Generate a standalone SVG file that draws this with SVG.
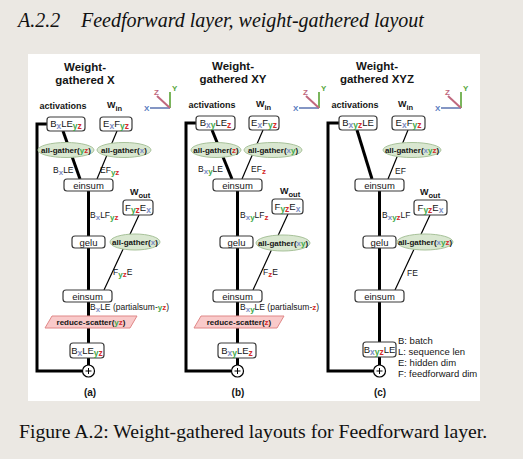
<svg xmlns="http://www.w3.org/2000/svg" width="523" height="459" viewBox="0 0 523 459">
<style>
.f{font-family:"Liberation Sans",Arial,sans-serif;fill:#151515}
.ttl{font-size:11.5px;font-weight:bold;text-anchor:middle}
.hd{font-size:9px;font-weight:bold}
.bx{font-size:9.5px;text-anchor:middle}
.bx tspan.sx,.bx tspan.sy,.bx tspan.sz{font-size:8.5px}
.lb{font-size:8.5px}
.lb tspan.sx,.lb tspan.sy,.lb tspan.sz{font-size:8px}
.ag{font-size:8px;font-weight:bold;text-anchor:middle}
.sx{fill:#7d8ec4;font-weight:bold}
.sy{fill:#3ea84a;font-weight:bold}
.sz{fill:#d42b2b;font-weight:bold}
.box{fill:#fff;stroke:#3a3a3a;stroke-width:1.2}
.ell{fill:#d9e7d0;stroke:#a8c29a;stroke-width:1}
.rs{fill:#f9caca;stroke:#e08888;stroke-width:1}
.thick{stroke:#000;stroke-width:3;fill:none}
.thin{stroke:#000;stroke-width:1.2;fill:none}
.ser{font-family:"Liberation Serif","Times New Roman",serif;fill:#111}
.axl{font-family:"Liberation Sans",Arial,sans-serif;font-size:8px;font-weight:bold}
.cap{font-size:10px;font-weight:bold;text-anchor:middle}
.lg{font-size:9.5px}
</style>
<rect x="0" y="0" width="523" height="459" fill="#ebe8e3"/>
<rect x="28" y="54" width="452" height="347" fill="#ffffff"/>
<text class="ser" x="18" y="27" font-size="20" font-style="italic">A.2.2</text>
<text class="ser" x="81" y="27" font-size="20" font-style="italic">Feedforward layer, weight-gathered layout</text>
<text class="ser" x="19" y="438" font-size="19.7">Figure A.2: Weight-gathered layouts for Feedforward layer.</text>

<g id="axes">
  <g id="axes-a">
    <line x1="170" y1="108" x2="170" y2="92" stroke="#7ab55c" stroke-width="2"/>
    <line x1="170" y1="108" x2="150" y2="108" stroke="#8496c4" stroke-width="2"/>
    <line x1="170" y1="108" x2="157" y2="96" stroke="#c0687e" stroke-width="2"/>
    <text class="axl" x="172" y="91" fill="#5aa83e">Y</text>
    <text class="axl" x="154" y="95" fill="#c0687e">Z</text>
    <text class="axl" x="144" y="111" fill="#5a7cc0">X</text>
  </g>
  <g id="axes-b">
    <line x1="319" y1="108" x2="319" y2="92" stroke="#7ab55c" stroke-width="2"/>
    <line x1="319" y1="108" x2="299" y2="108" stroke="#8496c4" stroke-width="2"/>
    <line x1="319" y1="108" x2="306" y2="96" stroke="#c0687e" stroke-width="2"/>
    <text class="axl" x="321" y="91" fill="#5aa83e">Y</text>
    <text class="axl" x="303" y="95" fill="#c0687e">Z</text>
    <text class="axl" x="293" y="111" fill="#5a7cc0">X</text>
  </g>
  <g id="axes-c">
    <line x1="461" y1="108" x2="461" y2="92" stroke="#7ab55c" stroke-width="2"/>
    <line x1="461" y1="108" x2="441" y2="108" stroke="#8496c4" stroke-width="2"/>
    <line x1="461" y1="108" x2="448" y2="96" stroke="#c0687e" stroke-width="2"/>
    <text class="axl" x="463" y="91" fill="#5aa83e">Y</text>
    <text class="axl" x="445" y="95" fill="#c0687e">Z</text>
    <text class="axl" x="435" y="111" fill="#5a7cc0">X</text>
  </g>
</g>

<g id="connectors">
  <line class="thick" x1="63" y1="131" x2="80" y2="179"/>
  <line class="thin" x1="117" y1="131" x2="97" y2="179"/>
  <line class="thick" x1="88.5" y1="191" x2="88.5" y2="365"/>
  <line class="thin" x1="139" y1="215" x2="104" y2="290"/>
  <polyline class="thick" points="47,124 37,124 37,371 82,371"/>

  <line class="thick" x1="212" y1="130" x2="232" y2="179"/>
  <line class="thin" x1="263" y1="130" x2="242" y2="179"/>
  <line class="thick" x1="237.5" y1="191" x2="237.5" y2="365"/>
  <line class="thin" x1="288" y1="214" x2="253" y2="290"/>
  <polyline class="thick" points="196,123 186,123 186,371 231,371"/>

  <line class="thick" x1="357" y1="130" x2="372" y2="179"/>
  <line class="thin" x1="408" y1="130" x2="388" y2="179"/>
  <line class="thick" x1="379.5" y1="191" x2="379.5" y2="365"/>
  <line class="thin" x1="430" y1="215" x2="395" y2="290"/>
  <polyline class="thick" points="339,123 328,123 328,371 373,371"/>
</g>

<g id="panel-a">
  <text class="f ttl" x="85" y="71">Weight-</text>
  <text class="f ttl" x="85" y="84">gathered X</text>
  <text class="f hd" x="63" y="109" text-anchor="middle">activations</text>
  <text class="f hd" x="107" y="108">W<tspan font-size="7.5" dy="3">in</tspan></text>
  <g id="a-act"><rect class="box" x="47" y="117" width="38" height="14" rx="3"/>
    <text class="f bx" x="66" y="127">B<tspan class="sx" dy="2">x</tspan><tspan dy="-2">LE</tspan><tspan class="sy" dy="2">y</tspan><tspan class="sz">z</tspan></text></g>
  <g id="a-win"><rect class="box" x="100" y="117" width="32" height="14" rx="3"/>
    <text class="f bx" x="116" y="127">E<tspan class="sx" dy="2">x</tspan><tspan dy="-2">F</tspan><tspan class="sy" dy="2">y</tspan><tspan class="sz">z</tspan></text></g>
  <g id="a-ag1"><ellipse class="ell" cx="66" cy="150" rx="28" ry="7.5"/>
    <text class="f ag" x="66" y="153">all-gather(<tspan class="sy">y</tspan><tspan class="sz">z</tspan>)</text></g>
  <g id="a-ag2"><ellipse class="ell" cx="124" cy="150" rx="27" ry="7.5"/>
    <text class="f ag" x="124" y="153">all-gather(<tspan class="sx">x</tspan>)</text></g>
  <text class="f lb" x="53" y="173">B<tspan class="sx" dy="2">x</tspan><tspan dy="-2">LE</tspan></text>
  <text class="f lb" x="100" y="173">EF<tspan class="sy" dy="2">y</tspan><tspan class="sz">z</tspan></text>
  <g id="a-einsum1"><rect class="box" x="64" y="179" width="49" height="12" rx="3"/>
    <text class="f bx" x="88.5" y="188.5">einsum</text></g>
  <text class="f hd" x="130" y="195">W<tspan font-size="7.5" dy="3">out</tspan></text>
  <g id="a-wout"><rect class="box" x="123" y="200" width="30" height="15" rx="3"/>
    <text class="f bx" x="138" y="210.5">F<tspan class="sy" dy="2">y</tspan><tspan class="sz">z</tspan><tspan dy="-2">E</tspan><tspan class="sx" dy="2">x</tspan></text></g>
  <text class="f lb" x="90" y="218">B<tspan class="sx" dy="2">x</tspan><tspan dy="-2">LF</tspan><tspan class="sy" dy="2">y</tspan><tspan class="sz">z</tspan></text>
  <g id="a-gelu"><rect class="box" x="72" y="236" width="33" height="12" rx="3"/>
    <text class="f bx" x="88.5" y="245.5">gelu</text></g>
  <g id="a-ag3"><ellipse class="ell" cx="135" cy="242" rx="25" ry="8"/>
    <text class="f ag" x="135" y="245">all-gather(<tspan class="sx">x</tspan>)</text></g>
  <text class="f lb" x="113" y="275">F<tspan class="sy" dy="2">y</tspan><tspan class="sz">z</tspan><tspan dy="-2">E</tspan></text>
  <g id="a-einsum2"><rect class="box" x="63" y="290" width="49" height="12" rx="3"/>
    <text class="f bx" x="87.5" y="299.5">einsum</text></g>
  <text class="f lb" x="90" y="310">B<tspan class="sx" dy="2">x</tspan><tspan dy="-2">LE (partialsum-</tspan><tspan class="sy">y</tspan><tspan class="sz">z</tspan>)</text>
  <g id="a-rs"><polygon class="rs" points="52,316 137,316 130,328 45,328"/>
    <text class="f ag" x="91" y="325">reduce-scatter(<tspan class="sy">y</tspan><tspan class="sz">z</tspan>)</text></g>
  <g id="a-out"><rect class="box" x="70" y="343" width="34" height="15" rx="3"/>
    <text class="f bx" x="87" y="353.5">B<tspan class="sx" dy="2">x</tspan><tspan dy="-2">LE</tspan><tspan class="sy" dy="2">y</tspan><tspan class="sz">z</tspan></text></g>
  <g id="a-sum"><circle cx="88.5" cy="371" r="6" fill="#fff" stroke="#000" stroke-width="1.2"/>
    <path d="M85.5 371h6M88.5 368v6" stroke="#000" stroke-width="1"/></g>
  <text class="f cap" x="90" y="396">(a)</text>
</g>

<g id="panel-b">
  <text class="f ttl" x="233" y="70">Weight-</text>
  <text class="f ttl" x="233" y="83">gathered XY</text>
  <text class="f hd" x="212" y="108" text-anchor="middle">activations</text>
  <text class="f hd" x="256" y="107">W<tspan font-size="7.5" dy="3">in</tspan></text>
  <g id="b-act"><rect class="box" x="196" y="116" width="39" height="14" rx="3"/>
    <text class="f bx" x="215.5" y="126">B<tspan class="sx" dy="2">x</tspan><tspan class="sy">y</tspan><tspan dy="-2">LE</tspan><tspan class="sz" dy="2">z</tspan></text></g>
  <g id="b-win"><rect class="box" x="249" y="116" width="30" height="14" rx="3"/>
    <text class="f bx" x="264" y="126">E<tspan class="sx" dy="2">x</tspan><tspan dy="-2">F</tspan><tspan class="sy" dy="2">y</tspan><tspan class="sz">z</tspan></text></g>
  <g id="b-ag1"><ellipse class="ell" cx="216" cy="150" rx="25" ry="7.5"/>
    <text class="f ag" x="216" y="153">all-gather(<tspan class="sz">z</tspan>)</text></g>
  <g id="b-ag2"><ellipse class="ell" cx="273" cy="150" rx="29" ry="7.5"/>
    <text class="f ag" x="273" y="153">all-gather(<tspan class="sx">x</tspan><tspan class="sy">y</tspan>)</text></g>
  <text class="f lb" x="198" y="172">B<tspan class="sx" dy="2">x</tspan><tspan class="sy">y</tspan><tspan dy="-2">LE</tspan></text>
  <text class="f lb" x="251" y="172">EF<tspan class="sz" dy="2">z</tspan></text>
  <g id="b-einsum1"><rect class="box" x="213" y="179" width="49" height="12" rx="3"/>
    <text class="f bx" x="237.5" y="188.5">einsum</text></g>
  <text class="f hd" x="280" y="194">W<tspan font-size="7.5" dy="3">out</tspan></text>
  <g id="b-wout"><rect class="box" x="272" y="199" width="31" height="15" rx="3"/>
    <text class="f bx" x="287.5" y="209.5">F<tspan class="sy" dy="2">y</tspan><tspan class="sz">z</tspan><tspan dy="-2">E</tspan><tspan class="sx" dy="2">x</tspan></text></g>
  <text class="f lb" x="240" y="218">B<tspan class="sx" dy="2">x</tspan><tspan class="sy">y</tspan><tspan dy="-2">LF</tspan><tspan class="sz" dy="2">z</tspan></text>
  <g id="b-gelu"><rect class="box" x="220" y="236" width="33" height="12" rx="3"/>
    <text class="f bx" x="236.5" y="245.5">gelu</text></g>
  <g id="b-ag3"><ellipse class="ell" cx="283" cy="243" rx="27" ry="8"/>
    <text class="f ag" x="283" y="246">all-gather(<tspan class="sx">x</tspan><tspan class="sy">y</tspan>)</text></g>
  <text class="f lb" x="263" y="275">F<tspan class="sz" dy="2">z</tspan><tspan dy="-2">E</tspan></text>
  <g id="b-einsum2"><rect class="box" x="213" y="290" width="49" height="12" rx="3"/>
    <text class="f bx" x="237.5" y="299.5">einsum</text></g>
  <text class="f lb" x="240" y="310">B<tspan class="sx" dy="2">x</tspan><tspan class="sy">y</tspan><tspan dy="-2">LE (partialsum-</tspan><tspan class="sz">z</tspan>)</text>
  <g id="b-rs"><polygon class="rs" points="201,316 284,316 277,328 194,328"/>
    <text class="f ag" x="239" y="325">reduce-scatter(<tspan class="sz">z</tspan>)</text></g>
  <g id="b-out"><rect class="box" x="218" y="343" width="38" height="15" rx="3"/>
    <text class="f bx" x="237" y="353.5">B<tspan class="sx" dy="2">x</tspan><tspan class="sy">y</tspan><tspan dy="-2">LE</tspan><tspan class="sz" dy="2">z</tspan></text></g>
  <g id="b-sum"><circle cx="237.5" cy="371" r="6" fill="#fff" stroke="#000" stroke-width="1.2"/>
    <path d="M234.5 371h6M237.5 368v6" stroke="#000" stroke-width="1"/></g>
  <text class="f cap" x="238" y="396">(b)</text>
</g>

<g id="panel-c">
  <text class="f ttl" x="377" y="70">Weight-</text>
  <text class="f ttl" x="377" y="83">gathered XYZ</text>
  <text class="f hd" x="355" y="108" text-anchor="middle">activations</text>
  <text class="f hd" x="398" y="107">W<tspan font-size="7.5" dy="3">in</tspan></text>
  <g id="c-act"><rect class="box" x="339" y="116" width="38" height="14" rx="3"/>
    <text class="f bx" x="358" y="126">B<tspan class="sx" dy="2">x</tspan><tspan class="sy">y</tspan><tspan class="sz">z</tspan><tspan dy="-2">LE</tspan></text></g>
  <g id="c-win"><rect class="box" x="392" y="116" width="33" height="14" rx="3"/>
    <text class="f bx" x="408.5" y="126">E<tspan class="sx" dy="2">x</tspan><tspan dy="-2">F</tspan><tspan class="sy" dy="2">y</tspan><tspan class="sz">z</tspan></text></g>
  <g id="c-ag1"><ellipse class="ell" cx="412" cy="150" rx="29" ry="7.5"/>
    <text class="f ag" x="412" y="153">all-gather(<tspan class="sx">x</tspan><tspan class="sy">y</tspan><tspan class="sz">z</tspan>)</text></g>
  <text class="f lb" x="395" y="174">EF</text>
  <g id="c-einsum1"><rect class="box" x="355" y="179" width="49" height="12" rx="3"/>
    <text class="f bx" x="379.5" y="188.5">einsum</text></g>
  <text class="f hd" x="420" y="195">W<tspan font-size="7.5" dy="3">out</tspan></text>
  <g id="c-wout"><rect class="box" x="414" y="200" width="33" height="15" rx="3"/>
    <text class="f bx" x="430.5" y="210.5">F<tspan class="sy" dy="2">y</tspan><tspan class="sz">z</tspan><tspan dy="-2">E</tspan><tspan class="sx" dy="2">x</tspan></text></g>
  <text class="f lb" x="382" y="218">B<tspan class="sx" dy="2">x</tspan><tspan class="sy">y</tspan><tspan class="sz">z</tspan><tspan dy="-2">LF</tspan></text>
  <g id="c-gelu"><rect class="box" x="363" y="236" width="33" height="12" rx="3"/>
    <text class="f bx" x="379.5" y="245.5">gelu</text></g>
  <g id="c-ag2"><ellipse class="ell" cx="425" cy="242" rx="28" ry="8"/>
    <text class="f ag" x="425" y="245">all-gather(<tspan class="sx">x</tspan><tspan class="sy">y</tspan><tspan class="sz">z</tspan>)</text></g>
  <text class="f lb" x="407" y="276">FE</text>
  <g id="c-einsum2"><rect class="box" x="355" y="290" width="49" height="12" rx="3"/>
    <text class="f bx" x="379.5" y="299.5">einsum</text></g>
  <g id="c-out"><rect class="box" x="363" y="342" width="33" height="15" rx="3"/>
    <text class="f bx" x="379.5" y="352.5">B<tspan class="sx" dy="2">x</tspan><tspan class="sy">y</tspan><tspan class="sz">z</tspan><tspan dy="-2">LE</tspan></text></g>
  <g id="c-sum"><circle cx="379.5" cy="371" r="6" fill="#fff" stroke="#000" stroke-width="1.2"/>
    <path d="M376.5 371h6M379.5 368v6" stroke="#000" stroke-width="1"/></g>
  <text class="f cap" x="380" y="396">(c)</text>
  <g id="legend">
    <text class="f lg" x="398" y="344">B: batch</text>
    <text class="f lg" x="398" y="355">L: sequence len</text>
    <text class="f lg" x="398" y="366">E: hidden dim</text>
    <text class="f lg" x="398" y="377">F: feedforward dim</text>
  </g>
</g>
</svg>
